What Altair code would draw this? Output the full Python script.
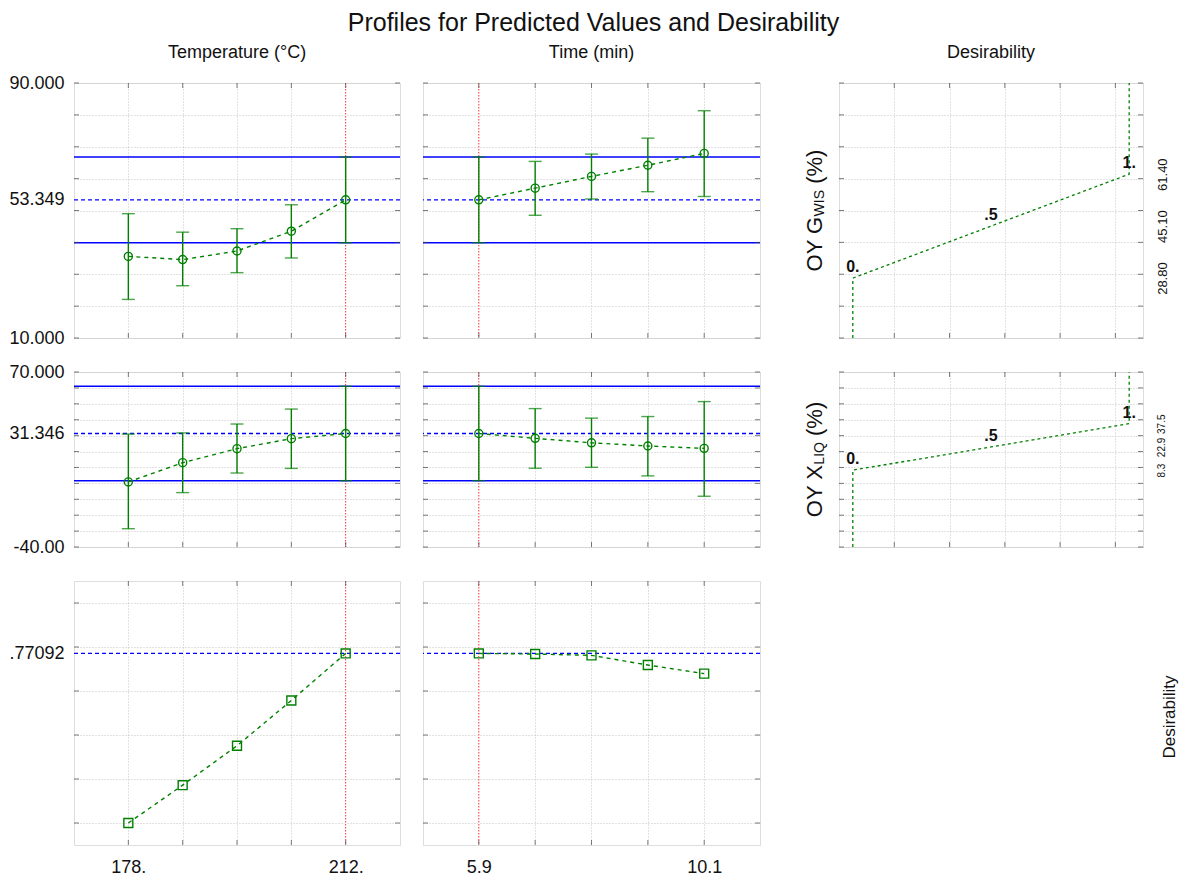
import altair as alt
import pandas as pd

FONT = "Liberation Sans"
GREEN = "#008000"
BLUE = "#0000ff"
RED = "#ff3030"
GRID = "#c4c4c4"
FRAME = "#222222"
TICKC = "#444444"

TITLE = "Profiles for Predicted Values and Desirability"
HEADERS = ["Temperature (°C)", "Time (min)", "Desirability"]
ROW3_TITLE = "Desirability"

# factor levels
TEMP_LEVELS = [178.0, 186.5, 195.0, 203.5, 212.0]
TIME_LEVELS = [5.9, 6.95, 8.0, 9.05, 10.1]
TEMP_CURRENT = 212.0
TIME_CURRENT = 5.9
TEMP_DOMAIN = [169.5, 220.5]
TIME_DOMAIN = [4.86, 11.14]
TEMP_TICK_LABELS = {178.0: "178.", 212.0: "212."}
TIME_TICK_LABELS = {5.9: "5.9", 10.1: "10.1"}

# response 1: OY G_WIS
G_DOMAIN = [10, 90]
G_GRID = [10, 20, 30, 40, 50, 60, 70, 80, 90]
G_LABELS = {10: "10.000", 53.349: "53.349", 90: "90.000"}
G_CURRENT = 53.349
G_CI = [39.9, 66.8]
G_TEMP_PRED = [35.6, 34.6, 37.3, 43.5, 53.349]
G_TEMP_LO = [22.1, 26.4, 30.5, 35.1, 39.9]
G_TEMP_HI = [49.0, 43.2, 44.3, 51.8, 66.8]
G_TIME_PRED = [53.349, 57.0, 60.7, 64.2, 67.9]
G_TIME_LO = [39.9, 48.5, 53.6, 55.9, 54.4]
G_TIME_HI = [66.8, 65.4, 67.7, 72.7, 81.3]

# response 2: OY X_LIQ
X_DOMAIN = [-40, 70]
X_GRID = [-40, -30, -20, -10, 0, 10, 20, 30, 40, 50, 60, 70]
X_LABELS = {-40: "-40.00", 31.346: "31.346", 70: "70.000"}
X_CURRENT = 31.346
X_CI = [1.7, 61.0]
X_TEMP_PRED = [0.9, 13.0, 21.8, 28.1, 31.346]
X_TEMP_LO = [-28.5, -5.8, 6.5, 9.4, 1.7]
X_TEMP_HI = [31.0, 31.7, 37.3, 46.7, 61.0]
X_TIME_PRED = [31.346, 28.3, 25.5, 23.5, 22.0]
X_TIME_LO = [1.7, 9.5, 10.1, 4.7, -8.1]
X_TIME_HI = [61.0, 47.0, 41.0, 42.0, 51.4]

# overall desirability
D_DOMAIN = [-0.1, 1.1]
D_GRID = [0.0, 0.2, 0.4, 0.6, 0.8, 1.0]
D_LABELS = {0.77092: ".77092"}
D_CURRENT = 0.77092
D_TEMP = [0.0, 0.172, 0.351, 0.557, 0.77092]
D_TIME = [0.77092, 0.768, 0.762, 0.718, 0.679]

# desirability functions
DF_DOMAIN = [-0.05, 1.05]
DF_GRID = [0.15, 0.35, 0.55, 0.75, 0.95]
DF_D = [0.0, 0.0, 0.5, 1.0, 1.0]
G_DF_RESP = [10.0, 28.8, 45.1, 61.4, 90.0]
X_DF_RESP = [-40.0, 8.3, 22.9, 37.5, 70.0]
DF_LABEL_D = [0.0, 0.5, 1.0]
DF_LABEL_TEXT = ["0.", ".5", "1."]
G_DF_LABEL_RESP = [28.8, 45.1, 61.4]
X_DF_LABEL_RESP = [8.3, 22.9, 37.5]
G_RIGHT_LABELS = {28.8: "28.80", 45.1: "45.10", 61.4: "61.40"}
X_RIGHT_LABELS = {8.3: "8.3", 22.9: "22.9", 37.5: "37.5"}
G_YTITLE = ["OY G", "WIS", "(%)"]
X_YTITLE = ["OY X", "LIQ", "(%)"]

W1, W2, WS, W3 = 326, 337, 33, 304
H1, H2, H3 = 255, 175, 264


def label_expr(mapping):
    expr = "''"
    for v, t in reversed(list(mapping.items())):
        expr = f"datum.value == {v} ? '{t}' : ({expr})"
    return expr


def hide_test(values):
    return "indexof([" + ",".join(str(v) for v in values) + "], datum.value) >= 0"


def sc(dom):
    return alt.Scale(domain=dom, nice=False, zero=False)


def make_axis(orient, grid_vals, labels=None, size=18, angle=0, pad=10, hide_grid=None):
    kw = dict(orient=orient, grid=True, title=None, tickSize=0, ticks=False, domain=False,
              labelFlush=False, labelOverlap=False, labelBound=False, labelFont=FONT,
              labelColor="#111", gridColor=GRID, gridDash=[1, 2], gridWidth=1)
    hidden = list(hide_grid or [])
    if labels:
        extra = [v for v in labels if v not in grid_vals]
        hidden += extra
        kw["values"] = sorted(list(grid_vals) + extra)
        kw["labelExpr"] = label_expr(labels)
        kw["labelFontSize"] = size
        kw["labelPadding"] = pad
        if angle:
            kw["labelAngle"] = angle
            kw["labelAlign"] = "center"
            kw["labelBaseline"] = "top"
    else:
        kw["values"] = list(grid_vals)
        kw["labels"] = False
    if hidden:
        kw["gridOpacity"] = {"condition": {"test": hide_test(hidden), "value": 0}, "value": 1}
    return alt.Axis(**kw)


def frame_ticks(xvals, yvals, xenc, yenc, w, h):
    L = 5
    dx = pd.DataFrame({"x": xvals})
    dy = pd.DataFrame({"y": yvals})
    out = []
    for xv in (L / 2, w - L / 2):
        out.append(alt.Chart(dy).mark_tick(orient="horizontal", size=L, thickness=1, color=TICKC)
                   .encode(y=yenc, x=alt.value(xv)))
    for yv in (L / 2, h - L / 2):
        out.append(alt.Chart(dx).mark_tick(orient="vertical", size=L, thickness=1, color=TICKC)
                   .encode(x=xenc, y=alt.value(yv)))
    return out


def header_layer(text, w):
    return (alt.Chart(pd.DataFrame({"t": [text]}))
            .mark_text(font=FONT, fontSize=18, align="center", baseline="alphabetic", color="#111")
            .encode(text="t:N", x=alt.value(w / 2), y=alt.value(-25)))


def response_panel(levels, pred, xdom, xlabels, cur_x, ydom, ygrid, ylabels, cur_y, w, h,
                   lo=None, hi=None, ci=None, shape="circle", title=None):
    xaxis = make_axis("bottom", levels, xlabels, size=18, pad=13, hide_grid=[cur_x])
    yaxis = make_axis("left", ygrid, ylabels, size=18, pad=10)
    X = alt.X("x:Q", scale=sc(xdom), axis=xaxis)
    Y = alt.Y("y:Q", scale=sc(ydom), axis=yaxis)
    n = list(range(len(levels)))
    df = pd.DataFrame({"x": levels, "y": pred, "i": n})
    cx = pd.DataFrame({"x": [cur_x]})
    cy = pd.DataFrame({"y": [cur_y]})
    layers = [
        # white underlay keeps the dotted grid from showing through the reference lines
        alt.Chart(cx).mark_rule(color="white", strokeWidth=2).encode(x=X),
        alt.Chart(cy).mark_rule(color="white", strokeWidth=2).encode(y=Y),
        alt.Chart(cx).mark_rule(color=RED, strokeDash=[1.5, 1.5], strokeWidth=1).encode(x=X),
    ]
    if ci is not None:
        layers.append(alt.Chart(pd.DataFrame({"y": ci})).mark_rule(color=BLUE, strokeWidth=1.5)
                      .encode(y=Y))
    layers.append(alt.Chart(cy).mark_rule(color=BLUE, strokeWidth=1.4, strokeDash=[4, 3]).encode(y=Y))
    if lo is not None:
        eb = pd.DataFrame({"x": levels, "y": lo, "y2": hi})
        layers.append(alt.Chart(eb).mark_rule(color=GREEN, strokeWidth=1.4)
                      .encode(x=X, y=Y, y2="y2:Q"))
        caps = pd.DataFrame({"x": levels + levels, "y": lo + hi})
        layers.append(alt.Chart(caps).mark_tick(orient="horizontal", size=13, thickness=1.4, color=GREEN)
                      .encode(x=X, y=Y))
    layers.append(alt.Chart(df).mark_line(color=GREEN, strokeDash=[4, 4], strokeWidth=1.4)
                  .encode(x=X, y=Y, order="i:Q"))
    size = 65 if shape == "circle" else 80
    layers.append(alt.Chart(df).mark_point(shape=shape, filled=False, color=GREEN, size=size, strokeWidth=1.4, opacity=1)
                  .encode(x=X, y=Y))
    layers += frame_ticks(levels, ygrid, X, Y, w, h)
    if title:
        layers.append(header_layer(title, w))
    return alt.layer(*layers).properties(width=w, height=h)


def desir_panel(resp, lab_resp, right_labels, right_size, ydom, ygrid, title_parts, w, h, title=None):
    xaxis = make_axis("bottom", DF_GRID)
    yaxis = make_axis("right", ygrid, right_labels, size=right_size, angle=270, pad=13)
    X = alt.X("x:Q", scale=sc(DF_DOMAIN), axis=xaxis)
    Y = alt.Y("y:Q", scale=sc(ydom), axis=yaxis)
    df = pd.DataFrame({"x": DF_D, "y": resp, "i": list(range(len(DF_D)))})
    lab = pd.DataFrame({"x": DF_LABEL_D, "y": lab_resp, "t": DF_LABEL_TEXT})
    layers = [
        alt.Chart(df).mark_line(color=GREEN, strokeDash=[3, 3], strokeWidth=1.3)
        .encode(x=X, y=Y, order="i:Q"),
        alt.Chart(lab).mark_text(font=FONT, fontSize=16, fontWeight="bold", color="#111",
                                 align="center", baseline="bottom", dy=-3)
        .encode(x=X, y=Y, text="t:N"),
    ]
    # rotated y title with subscript
    mid = h / 2
    big, sub = 22, 14
    w_big1 = {"OY G": 2.501, "OY X": 2.39}[title_parts[0]] * big
    w_sub = {"WIS": 1.889, "LIQ": 1.612}[title_parts[1]] * sub
    w_big2 = 1.555 * big
    total = w_big1 + w_sub + 0.278 * big + w_big2
    y0 = mid + total / 2
    pos = [(-24.5, y0, big), (-19, y0 - w_big1, sub), (-24.5, y0 - w_big1 - w_sub - 0.278 * big, big)]
    for (xv, yv, fs), txt in zip(pos, title_parts):
        layers.append(alt.Chart(pd.DataFrame({"t": [txt]})).mark_text(
            font=FONT, fontSize=fs, angle=270, align="left", baseline="middle", color="#111")
            .encode(text="t:N", x=alt.value(xv), y=alt.value(yv)))
    layers += frame_ticks(DF_GRID, ygrid, X, Y, w, h)
    if title:
        layers.append(header_layer(title, w))
    return alt.layer(*layers).properties(width=w, height=h)


def spacer(w, h):
    return (alt.Chart(pd.DataFrame({"x": [0]})).mark_point(opacity=0)
            .encode(x=alt.value(0), y=alt.value(0))
            .properties(width=w, height=h, view=alt.ViewBackground(stroke="transparent")))


def row3_label(w, h):
    return (alt.Chart(pd.DataFrame({"t": [ROW3_TITLE]}))
            .mark_text(font=FONT, fontSize=17, angle=270, align="center", baseline="middle", color="#111")
            .encode(text="t:N", x=alt.value(w + 27), y=alt.value(h / 2 + 4))
            .properties(width=w, height=h, view=alt.ViewBackground(stroke="transparent")))


cells = [
    response_panel(TEMP_LEVELS, G_TEMP_PRED, TEMP_DOMAIN, None, TEMP_CURRENT, G_DOMAIN, G_GRID, G_LABELS,
                   G_CURRENT, W1, H1, lo=G_TEMP_LO, hi=G_TEMP_HI, ci=G_CI, title=HEADERS[0]),
    response_panel(TIME_LEVELS, G_TIME_PRED, TIME_DOMAIN, None, TIME_CURRENT, G_DOMAIN, G_GRID, None,
                   G_CURRENT, W2, H1, lo=G_TIME_LO, hi=G_TIME_HI, ci=G_CI, title=HEADERS[1]),
    spacer(WS, 10),
    desir_panel(G_DF_RESP, G_DF_LABEL_RESP, G_RIGHT_LABELS, 13, G_DOMAIN, G_GRID, G_YTITLE, W3, H1,
                title=HEADERS[2]),
    response_panel(TEMP_LEVELS, X_TEMP_PRED, TEMP_DOMAIN, None, TEMP_CURRENT, X_DOMAIN, X_GRID, X_LABELS,
                   X_CURRENT, W1, H2, lo=X_TEMP_LO, hi=X_TEMP_HI, ci=X_CI),
    response_panel(TIME_LEVELS, X_TIME_PRED, TIME_DOMAIN, None, TIME_CURRENT, X_DOMAIN, X_GRID, None,
                   X_CURRENT, W2, H2, lo=X_TIME_LO, hi=X_TIME_HI, ci=X_CI),
    spacer(WS, 10),
    desir_panel(X_DF_RESP, X_DF_LABEL_RESP, X_RIGHT_LABELS, 10, X_DOMAIN, X_GRID, X_YTITLE, W3, H2),
    response_panel(TEMP_LEVELS, D_TEMP, TEMP_DOMAIN, TEMP_TICK_LABELS, TEMP_CURRENT, D_DOMAIN, D_GRID, D_LABELS,
                   D_CURRENT, W1, H3, shape="square"),
    response_panel(TIME_LEVELS, D_TIME, TIME_DOMAIN, TIME_TICK_LABELS, TIME_CURRENT, D_DOMAIN, D_GRID, None,
                   D_CURRENT, W2, H3, shape="square"),
    spacer(WS, 10),
    row3_label(W3, H3),
]

chart = (
    alt.concat(*cells, columns=4, spacing={"row": 34, "column": 23}, bounds="flush")
    .properties(
        title=alt.TitleParams(TITLE, fontSize=25, font=FONT, fontWeight="normal", anchor="middle",
                              color="#111", offset=8),
        padding={"left": 0, "top": 2, "right": 0, "bottom": 0},
    )
    .configure_view(stroke=FRAME, strokeWidth=1.5)
    .configure(background="white")
)

chart.save("out.html", embed_options={"renderer": "svg", "actions": False})
